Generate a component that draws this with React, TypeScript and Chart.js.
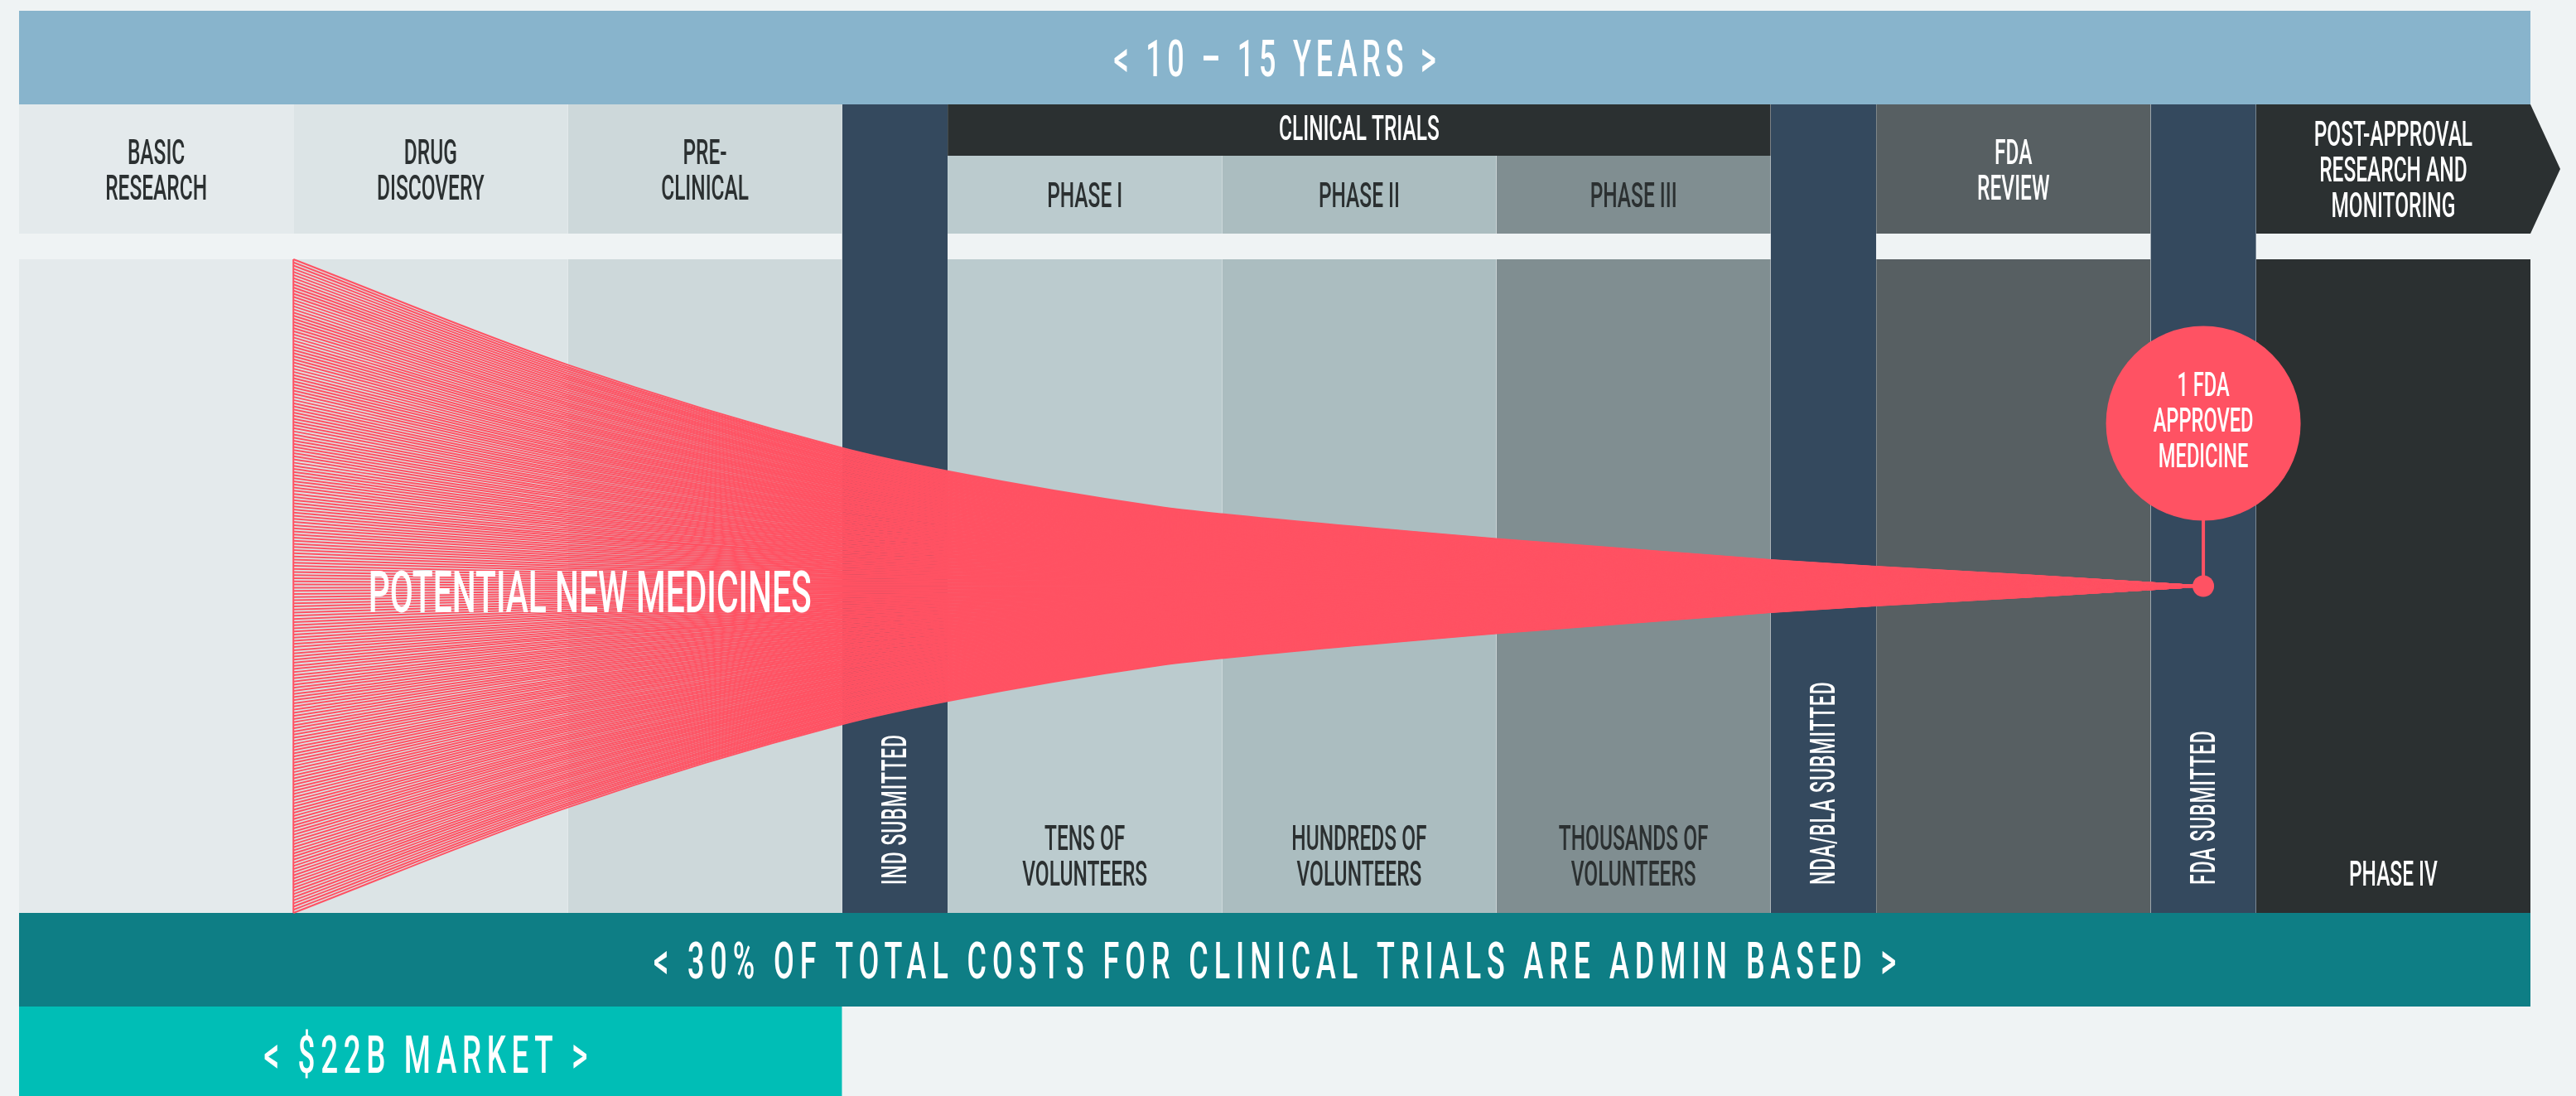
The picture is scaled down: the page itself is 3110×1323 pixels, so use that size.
import React, { useEffect, useRef } from 'react';
import { Chart, registerables } from 'chart.js';

Chart.register(...registerables);

// ---------------- data ----------------
const stageHeaderLines: string[][] = [
  ['BASIC', 'RESEARCH'],
  ['DRUG', 'DISCOVERY'],
  ['PRE-', 'CLINICAL'],
  [],
  ['PHASE I'],
  ['PHASE II'],
  ['PHASE III'],
  [],
  ['FDA', 'REVIEW'],
  [],
  ['POST-APPROVAL', 'RESEARCH AND', 'MONITORING'],
];
const milestoneLabels = ['', '', '', 'IND SUBMITTED', '', '', '', 'NDA/BLA SUBMITTED', '', 'FDA SUBMITTED', ''];
const stageSpans = [2.6, 2.6, 2.6, 1, 2.6, 2.6, 2.6, 1, 2.6, 1, 2.6];
const stageBodyLines: string[][] = [
  [], [], [], [],
  ['TENS OF', 'VOLUNTEERS'],
  ['HUNDREDS OF', 'VOLUNTEERS'],
  ['THOUSANDS OF', 'VOLUNTEERS'],
  [], [], [],
  ['PHASE IV'],
];
const clinicalTrialStages = [4, 5, 6];
const clinicalTrialsLabel = 'CLINICAL TRIALS';
const timelineLabel = '< 10 – 15 YEARS >';
const adminCostLabel = '< 30% OF TOTAL COSTS FOR CLINICAL TRIALS ARE ADMIN BASED >';
const marketLabel = '< $22B MARKET >';
const marketStages = [0, 1, 2];
const funnelLabel = 'POTENTIAL NEW MEDICINES';
const approvedLines = ['1 FDA', 'APPROVED', 'MEDICINE'];
const approvalStage = 9;
// funnel envelope: position on the stage axis and share of candidates still in the pipeline
const funnelX = [2.6, 5.2, 7.8, 8.8, 10.8, 11.4, 14.0, 16.6, 17.6, 19.05, 20.7];
const funnelShare = [1.0, 0.677, 0.423, 0.352, 0.243, 0.2205, 0.1445, 0.08, 0.0596, 0.033, 0];

// ---------------- styles ----------------
const stageColors = ['#e4eaec', '#dce4e6', '#cdd8da', '#34495e', '#bbcbce', '#abbdc0', '#808e91', '#34495e', '#575f62', '#34495e', '#2b3031'];
const stageTextColors = ['#2b3031', '#2b3031', '#2b3031', '#ffffff', '#2b3031', '#2b3031', '#2b3031', '#ffffff', '#ffffff', '#ffffff', '#ffffff'];
const BG = '#eff3f4';
const BANNER = '#88b4cc';
const DARK = '#2b3031';
const ADMIN = '#0e7e85';
const MARKET = '#00beb6';
const RED = '#ff5263';
const FONT = 'Roboto';
const CAP = 0.711;
const WEIGHT = 500;
const SX = 0.58;

// ---------------- layout ----------------
const W = 3110;
const H = 1323;
const LEFT = 23;
const TOTAL = stageSpans.reduce((a, b) => a + b, 0);
const UNIT = 3032 / TOTAL;
const X_MIN = -LEFT / UNIT;
const X_MAX = (W - LEFT) / UNIT;
const ARROW = 36 / UNIT;
const ROW = {
  bannerTop: 13,
  headerTop: 126,
  subTop: 188,
  headerBottom: 282,
  bodyTop: 313,
  bodyBottom: 1102,
  adminBottom: 1215,
  marketBottom: 1340,
};
const FUNNEL_MID = (ROW.bodyTop + ROW.bodyBottom) / 2;
const FUNNEL_HALF = (ROW.bodyBottom - ROW.bodyTop) / 2;
const FUNNEL_LINES = 210;
const CIRCLE_Y = 511;
const CIRCLE_R = 117.5;
const DOT_R = 13;
const LINE_GAP = 43;

const starts: number[] = [];
stageSpans.reduce((acc, s, i) => {
  starts[i] = acc;
  return acc + s;
}, 0);
const ends = starts.map((s, i) => s + stageSpans[i]);
const centers = starts.map((s, i) => s + stageSpans[i] / 2);

function rect(x0: number, x1: number, y0: number, y1: number, color: string): any {
  return {
    type: 'line',
    data: [{ x: x0, y: y0 }, { x: x1, y: y0 }],
    fill: { value: y1 },
    backgroundColor: color,
    borderColor: 'rgba(0,0,0,0)',
    borderWidth: 0,
    pointRadius: 0,
    tension: 0,
    order: 5,
  };
}

function buildDatasets(): any[] {
  const ds: any[] = [];
  ds.push(rect(0, TOTAL, ROW.bannerTop, ROW.headerTop, BANNER));
  stageSpans.forEach((_, i) => {
    const c = stageColors[i];
    if (milestoneLabels[i]) {
      ds.push(rect(starts[i], ends[i], ROW.headerTop, ROW.bodyBottom, c));
    } else {
      const top = clinicalTrialStages.includes(i) ? ROW.subTop : ROW.headerTop;
      ds.push(rect(starts[i], ends[i], top, ROW.headerBottom, c));
      ds.push(rect(starts[i], ends[i], ROW.bodyTop, ROW.bodyBottom, c));
    }
  });
  const ctS = starts[clinicalTrialStages[0]];
  const ctE = ends[clinicalTrialStages[clinicalTrialStages.length - 1]];
  ds.push(rect(ctS, ctE, ROW.headerTop, ROW.subTop, DARK));
  // arrow tip of the last header
  const last = stageSpans.length - 1;
  const midH = (ROW.headerTop + ROW.headerBottom) / 2;
  [ROW.headerTop, ROW.headerBottom].forEach((yy) => {
    ds.push({
      type: 'line',
      data: [{ x: starts[last], y: yy }, { x: ends[last], y: yy }, { x: ends[last] + ARROW, y: midH }],
      fill: { value: midH },
      backgroundColor: stageColors[last],
      borderColor: 'rgba(0,0,0,0)',
      borderWidth: 0,
      pointRadius: 0,
      tension: 0,
      order: 5,
    });
  });
  ds.push(rect(0, TOTAL, ROW.bodyBottom, ROW.adminBottom, ADMIN));
  ds.push(rect(starts[marketStages[0]], ends[marketStages[marketStages.length - 1]], ROW.adminBottom, ROW.marketBottom, MARKET));

  // funnel lines
  for (let i = 0; i < FUNNEL_LINES; i++) {
    const f = -1 + (2 * i) / (FUNNEL_LINES - 1);
    ds.push({
      type: 'line',
      data: funnelX.map((x, j) => ({ x, y: FUNNEL_MID + f * funnelShare[j] * FUNNEL_HALF })),
      borderColor: RED,
      borderWidth: 2,
      cubicInterpolationMode: 'monotone',
      pointRadius: 0,
      fill: false,
      order: 3,
    });
  }
  ds.push({
    type: 'line',
    data: [{ x: funnelX[0], y: ROW.bodyTop }, { x: funnelX[0], y: ROW.bodyBottom }],
    borderColor: RED,
    borderWidth: 2,
    pointRadius: 0,
    fill: false,
    order: 3,
  });
  const ax = centers[approvalStage];
  ds.push({
    type: 'line',
    data: [{ x: ax, y: CIRCLE_Y + CIRCLE_R - 2 }, { x: ax, y: FUNNEL_MID }],
    borderColor: RED,
    borderWidth: 4,
    pointRadius: 0,
    fill: false,
    order: 2,
  });
  ds.push({
    type: 'line',
    data: [{ x: ax, y: CIRCLE_Y }],
    showLine: false,
    pointRadius: CIRCLE_R,
    pointBackgroundColor: RED,
    pointBorderWidth: 0,
    pointBorderColor: RED,
    order: 1,
  });
  ds.push({
    type: 'line',
    data: [{ x: funnelX[funnelX.length - 1], y: FUNNEL_MID }],
    showLine: false,
    pointRadius: DOT_R,
    pointBackgroundColor: RED,
    pointBorderWidth: 0,
    pointBorderColor: RED,
    order: 1,
  });
  return ds;
}

type TextOpts = {
  cap: number;
  color: string;
  sx?: number;
  spacing?: number;
  weight?: number;
  align?: CanvasTextAlign;
  rotate?: number;
};

function drawText(ctx: CanvasRenderingContext2D, text: string, x: number, y: number, o: TextOpts) {
  const size = o.cap / CAP;
  const sp = o.spacing || 0;
  ctx.save();
  ctx.font = `${o.weight || WEIGHT} ${size}px ${FONT}`;
  ctx.fillStyle = o.color;
  ctx.textAlign = o.align || 'center';
  ctx.textBaseline = 'alphabetic';
  (ctx as any).letterSpacing = `${sp}px`;
  ctx.translate(x, y);
  if (o.rotate) ctx.rotate(o.rotate);
  ctx.scale(o.sx ?? SX, 1);
  const dx = (o.align || 'center') === 'center' ? sp / 2 : 0;
  ctx.fillText(text, dx, o.cap / 2);
  ctx.restore();
}

function drawLines(ctx: CanvasRenderingContext2D, lines: string[], x: number, cy: number, o: TextOpts) {
  const n = lines.length;
  lines.forEach((t, k) => {
    drawText(ctx, t, x, cy + (k - (n - 1) / 2) * LINE_GAP, o);
  });
}

const labelPlugin = {
  id: 'pipelineLabels',
  afterDatasetsDraw(chart: any) {
    const ctx: CanvasRenderingContext2D = chart.ctx;
    const xs = chart.scales.x;
    const ys = chart.scales.y;
    const px = (v: number) => xs.getPixelForValue(v);
    const py = (v: number) => ys.getPixelForValue(v);

    // top banner
    drawText(ctx, timelineLabel, px(TOTAL / 2), py((ROW.bannerTop + ROW.headerTop) / 2), {
      cap: 44, color: '#ffffff', spacing: 10,
    });
    // clinical trials header
    const ctS = starts[clinicalTrialStages[0]];
    const ctE = ends[clinicalTrialStages[clinicalTrialStages.length - 1]];
    drawText(ctx, clinicalTrialsLabel, px((ctS + ctE) / 2), py((ROW.headerTop + ROW.subTop) / 2) - 3, {
      cap: 30, color: '#ffffff',
    });
    // stage headers
    stageHeaderLines.forEach((lines, i) => {
      if (!lines.length) return;
      const top = clinicalTrialStages.includes(i) ? ROW.subTop : ROW.headerTop;
      drawLines(ctx, lines, px(centers[i]), py((top + ROW.headerBottom) / 2), {
        cap: 30, color: stageTextColors[i],
      });
    });
    // body labels (bottom aligned)
    stageBodyLines.forEach((lines, i) => {
      if (!lines.length) return;
      const lastY = ROW.bodyBottom - 48;
      const cy = lastY - ((lines.length - 1) * LINE_GAP) / 2;
      drawLines(ctx, lines, px(centers[i]), py(cy), { cap: 30, color: stageTextColors[i] });
    });
    // milestone vertical labels
    milestoneLabels.forEach((t, i) => {
      if (!t) return;
      drawText(ctx, t, px(centers[i]) - 1, py(ROW.bodyBottom - 34), {
        cap: 30, color: '#ffffff', sx: 0.54, spacing: 2, align: 'left', rotate: -Math.PI / 2,
      });
    });
    // funnel label
    drawText(ctx, funnelLabel, px(5.41), py(FUNNEL_MID + 6), { cap: 50, color: '#ffffff' });
    // circle label
    drawLines(ctx, approvedLines, px(centers[approvalStage]), py(CIRCLE_Y - 5), { cap: 29, color: '#ffffff' });
    // admin band
    drawText(ctx, adminCostLabel, px(TOTAL / 2), py((ROW.bodyBottom + ROW.adminBottom) / 2), {
      cap: 44, color: '#ffffff', spacing: 12,
    });
    // market band
    const mS = starts[marketStages[0]];
    const mE = ends[marketStages[marketStages.length - 1]];
    drawText(ctx, marketLabel, px((mS + mE) / 2) - 6, py(ROW.adminBottom + 57), {
      cap: 45, color: '#ffffff', spacing: 11.5,
    });
  },
};

export default function App() {
  const ref = useRef<HTMLCanvasElement | null>(null);
  useEffect(() => {
    document.body.style.margin = '0';
    document.body.style.background = BG;
    const canvas = ref.current;
    if (!canvas) return;
    const chart = new Chart(canvas, {
      type: 'line',
      data: { datasets: buildDatasets() },
      options: {
        responsive: false,
        maintainAspectRatio: false,
        animation: false,
        devicePixelRatio: 1,
        events: [],
        layout: { padding: 0, autoPadding: false },
        plugins: {
          legend: { display: false },
          tooltip: { enabled: false },
          title: { display: false },
        },
        scales: {
          x: { type: 'linear', min: X_MIN, max: X_MAX, display: false },
          y: { type: 'linear', min: 0, max: H, reverse: true, display: false },
        },
      } as any,
      plugins: [labelPlugin],
    });
    return () => chart.destroy();
  }, []);
  return (
    <div style={{ position: 'fixed', left: 0, top: 0, width: W, height: H, background: BG }}>
      <canvas ref={ref} width={W} height={H} style={{ width: W, height: H, display: 'block' }} />
    </div>
  );
}
